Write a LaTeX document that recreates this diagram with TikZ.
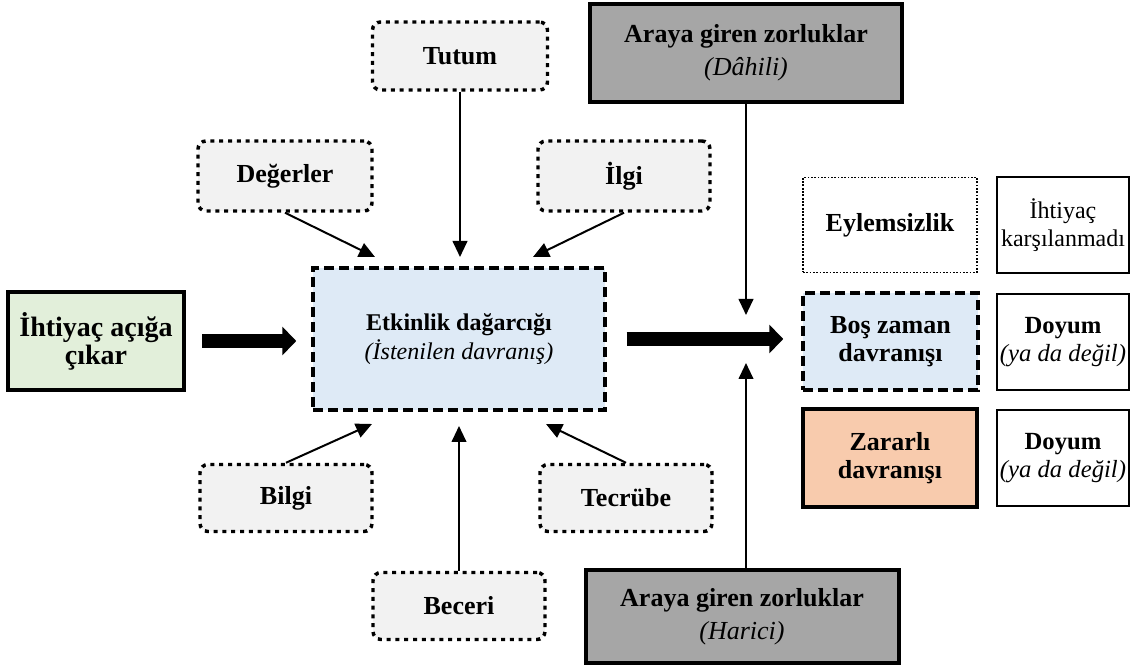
\documentclass[tikz,border=0pt]{standalone}
\usepackage{fontspec}
\setmainfont{Liberation Serif}
\usetikzlibrary{arrows.meta}
\definecolor{cgreen}{HTML}{E2EFDA}
\definecolor{cblue}{HTML}{DEEAF6}
\definecolor{clight}{HTML}{F2F2F2}
\definecolor{cgray}{HTML}{A6A6A6}
\definecolor{corange}{HTML}{F8CBAD}
\begin{document}
\begin{tikzpicture}[x=0.75pt,y=-0.75pt,
  base/.style={inner sep=0pt, align=center, font=\fontsize{19.5}{21}\selectfont\bfseries},
  factor/.style={base, draw, fill=clight, rounded corners=6pt, line width=2.6pt,
    dash pattern=on 3pt off 3.6pt, minimum width=129pt, minimum height=51pt},
  solidthick/.style={base, draw, line width=3pt},
  dashbox/.style={base, draw, fill=cblue, line width=2.6pt, dash pattern=on 7.5pt off 3.75pt},
  outcome/.style={base, draw, line width=1.1pt, minimum width=99pt, minimum height=72pt,
    font=\fontsize{18.5}{21}\selectfont\bfseries},
  obstacle/.style={solidthick, fill=cgray, font=\fontsize{19.5}{25}\selectfont\bfseries},
  bigarrow/.style={line width=10.5pt, -{Triangle[length=10.5pt,width=21pt]}},
  thinarrow/.style={line width=1.5pt, -{Triangle[length=12pt,width=11pt]}}
]
\useasboundingbox (0,0) rectangle (1133,666);

% left and centre
\node[solidthick, fill=cgreen, minimum width=132pt, minimum height=73.5pt,
  font=\fontsize{21}{21}\selectfont\bfseries] (ihtiyac) at (96,341) {İhtiyaç açığa\\çıkar};
\node[dashbox, minimum width=219pt, minimum height=106.5pt,
  font=\fontsize{18}{22}\selectfont\bfseries] (etkinlik) at (459,339)
  {Etkinlik dağarcığı\\{\mdseries\itshape (İstenilen davranış)}};

% factors
\node[factor, minimum width=131.25pt] (tutum) at (460,56) {Tutum};
\node[factor, minimum width=130.5pt, minimum height=52.5pt] (degerler) at (285,176) {Değerler};
\node[factor, minimum height=52.5pt] (ilgi) at (624,176) {İlgi};
\node[factor, minimum height=50.25pt] (bilgi) at (286,498) {Bilgi};
\node[factor, minimum height=50.25pt] (tecrube) at (626,498) {Tecrübe};
\node[factor, minimum height=50.25pt] (beceri) at (459,606) {Beceri};

% obstacles
\node[obstacle, minimum width=234pt, minimum height=73.5pt] (dahili) at (746,53)
  {Araya giren zorluklar\\{\mdseries\itshape (Dâhili)}};
\node[obstacle, minimum width=234.75pt, minimum height=69.75pt] (harici) at (742,616.5)
  {Araya giren zorluklar\\{\mdseries\itshape (Harici)}};

% right column
\node[base, draw, line width=1.3pt, dash pattern=on 1.3pt off 1.2pt,
  minimum width=130.5pt, minimum height=71.25pt] (eylem) at (890,225) {Eylemsizlik};
\node[outcome, font=\fontsize{18}{21}\selectfont] (ihtk) at (1063,225) {İhtiyaç\\karşılanmadı};
\node[dashbox, minimum width=131.25pt, minimum height=72.75pt] (bos) at (890.5,341.5) {Boş zaman\\davranışı};
\node[outcome] (doyum1) at (1063,342) {Doyum\\{\mdseries\itshape (ya da değil)}};
\node[solidthick, fill=corange, minimum width=130.5pt, minimum height=73.5pt] (zararli) at (890,458) {Zararlı\\davranışı};
\node[outcome] (doyum2) at (1063,458) {Doyum\\{\mdseries\itshape (ya da değil)}};

% arrow tip coordinates
\coordinate (tT) at (460,257);
\coordinate (tD) at (375,257);
\coordinate (tI) at (533,257);
\coordinate (tB) at (372,424);
\coordinate (tE) at (546,424);
\coordinate (tC) at (459,426);
\coordinate (tH) at (746,315);
\coordinate (tX) at (746,363);

% big arrows
\draw[bigarrow, shorten <=12pt, shorten >=11.25pt] (ihtiyac.east) -- (ihtiyac.east -| etkinlik.west);
\draw[bigarrow, shorten <=15pt, shorten >=13.5pt] (etkinlik.east) -- (etkinlik.east -| bos.west);

% thin arrows
\draw[thinarrow] (tutum.south) -- (tT);
\draw[thinarrow] (degerler.south) -- (tD);
\draw[thinarrow] (ilgi.south) -- (tI);
\draw[thinarrow] (bilgi.north) -- (tB);
\draw[thinarrow] (tecrube.north) -- (tE);
\draw[thinarrow] (beceri.north) -- (tC);
\draw[thinarrow] (tH |- dahili.south) -- (tH);
\draw[thinarrow] (tX |- harici.north) -- (tX);
\end{tikzpicture}
\end{document}
